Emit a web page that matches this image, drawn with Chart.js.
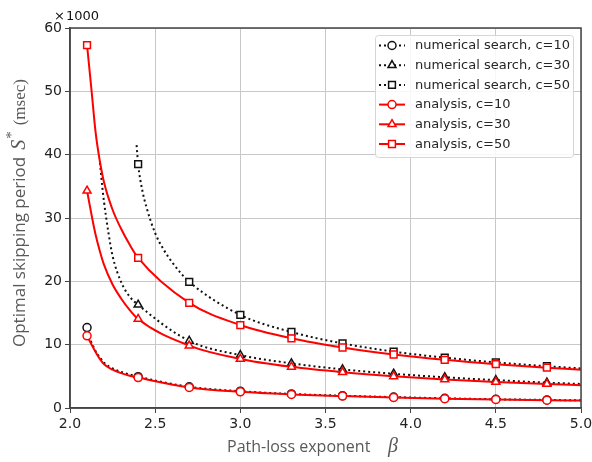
<!DOCTYPE html>
<html>
<head>
<meta charset="utf-8">
<script src="https://cdn.jsdelivr.net/npm/chart.js@4"></script>
<style>
  html, body { margin: 0; padding: 0; background: #fff; }
  #wrap { width: 592px; height: 462px; }
</style>
</head>
<body>
<div id="wrap"><canvas id="chart" width="592" height="462"></canvas></div>
<script>
// curve samples (beta, S* in units of 1000 msec)
const anaBeta10 = [2.1, 2.127, 2.15, 2.175, 2.2, 2.25, 2.3, 2.35, 2.4, 2.7, 3.0, 3.3, 3.6, 3.9, 4.2, 4.5, 4.8, 5.0];
const anaS10    = [11.4, 10.0, 8.85, 7.75, 6.9, 6.05, 5.5, 5.1, 4.8, 3.25, 2.55, 2.15, 1.88, 1.66, 1.48, 1.34, 1.23, 1.17];
const anaBeta30 = [2.1, 2.13, 2.15, 2.175, 2.2, 2.25, 2.3, 2.35, 2.4, 2.7, 3.0, 3.3, 3.6, 3.9, 4.2, 4.5, 4.8, 5.0];
const anaS30    = [34.3, 30.0, 27.4, 24.8, 22.6, 19.5, 17.3, 15.5, 14.05, 9.85, 7.75, 6.5, 5.65, 5.0, 4.5, 4.1, 3.78, 3.6];
const anaBeta50 = [2.1, 2.127, 2.15, 2.175, 2.2, 2.25, 2.3, 2.35, 2.4, 2.7, 3.0, 3.3, 3.6, 3.9, 4.2, 4.5, 4.8, 5.0];
const anaS50    = [57.3, 50.0, 43.6, 39.0, 35.6, 31.3, 28.3, 25.8, 23.7, 16.6, 13.1, 11.0, 9.55, 8.45, 7.6, 6.92, 6.37, 6.05];

const numBeta10 = [2.11, 2.15, 2.175, 2.2, 2.25, 2.3, 2.35, 2.4, 2.7, 3.0, 3.3, 3.6, 3.9, 4.2, 4.5, 4.8, 5.0];
const numS10    = [11.3, 9.0, 8.0, 7.15, 6.25, 5.7, 5.3, 4.95, 3.35, 2.65, 2.22, 1.94, 1.72, 1.53, 1.38, 1.27, 1.2];
const numBeta30 = [2.176, 2.19, 2.2, 2.225, 2.25, 2.3, 2.35, 2.4, 2.7, 3.0, 3.3, 3.6, 3.9, 4.2, 4.5, 4.8, 5.0];
const numS30    = [38.7, 34.8, 32.5, 27.8, 24.0, 19.9, 17.6, 16.3, 10.6, 8.35, 7.05, 6.1, 5.4, 4.85, 4.4, 4.0, 3.8];
const numBeta50 = [2.391, 2.4, 2.425, 2.45, 2.5, 2.55, 2.6, 2.65, 2.7, 3.0, 3.3, 3.6, 3.9, 4.2, 4.5, 4.8, 5.0];
const numS50    = [41.5, 38.5, 34.3, 31.6, 27.6, 25.0, 23.0, 21.3, 19.9, 14.7, 12.0, 10.2, 8.9, 7.95, 7.2, 6.6, 6.25];

// marker positions
const markBeta   = [2.1, 2.4, 2.7, 3.0, 3.3, 3.6, 3.9, 4.2, 4.5, 4.8];
const numMark10  = [12.7, 4.95, 3.35, 2.65, 2.22, 1.94, 1.72, 1.53, 1.38, 1.27];
const numMark30  = [null, 16.3, 10.6, 8.35, 7.05, 6.1, 5.4, 4.85, 4.4, 4.0];
const numMark50  = [null, 38.5, 19.9, 14.7, 12.0, 10.2, 8.9, 7.95, 7.2, 6.6];
const anaMark10  = [11.4, 4.8, 3.25, 2.55, 2.15, 1.88, 1.66, 1.48, 1.34, 1.23];
const anaMark30  = [34.3, 14.05, 9.85, 7.75, 6.5, 5.65, 5.0, 4.5, 4.1, 3.78];
const anaMark50  = [57.3, 23.7, 16.6, 13.1, 11.0, 9.55, 8.45, 7.6, 6.92, 6.37];

const xTicks = [2.0, 2.5, 3.0, 3.5, 4.0, 4.5, 5.0];
const yTicks = [0, 10, 20, 30, 40, 50, 60];

const legendLabels = [
  'numerical search, c=10', 'numerical search, c=30', 'numerical search, c=50',
  'analysis, c=10', 'analysis, c=30', 'analysis, c=50'
];

const RED = '#ff0000';
const BLACK = '#111111';
const DOTS = [2, 3];
const styles = ['circle', 'triangle', 'rect'];
const radii = { circle: 4, triangle: 4.6, rect: 4.8 };

const pts = (xs, ys) => xs.map((x, i) => ({ x, y: ys[i] })).filter(p => p.y !== null);

function lineSet(xs, ys, color, dotted, order) {
  return {
    data: pts(xs, ys), borderColor: color, borderWidth: 2,
    borderDash: dotted ? DOTS : [], pointRadius: 0, fill: false,
    cubicInterpolationMode: 'monotone', order
  };
}
function markSet(ys, color, style, order) {
  return {
    data: pts(markBeta, ys), showLine: false, pointStyle: style,
    pointRadius: radii[style], pointBorderWidth: 1.5,
    pointBorderColor: color, pointBackgroundColor: '#fff', order
  };
}

const datasets = [
  lineSet(anaBeta10, anaS10, RED, false, 1),
  lineSet(anaBeta30, anaS30, RED, false, 1),
  lineSet(anaBeta50, anaS50, RED, false, 1),
  markSet(anaMark10, RED, 'circle', 0),
  markSet(anaMark30, RED, 'triangle', 0),
  markSet(anaMark50, RED, 'rect', 0),
  lineSet(numBeta10, numS10, BLACK, true, 3),
  lineSet(numBeta30, numS30, BLACK, true, 3),
  lineSet(numBeta50, numS50, BLACK, true, 3),
  markSet(numMark10, BLACK, 'circle', 2),
  markSet(numMark30, BLACK, 'triangle', 2),
  markSet(numMark50, BLACK, 'rect', 2)
];

function drawMarker(ctx, style, x, y) {
  Chart.helpers.drawPoint(ctx, {
    pointStyle: style, radius: radii[style], borderWidth: 1.5
  }, x, y);
}

// frame, legend and axis titles
const decorations = {
  id: 'decorations',
  afterDatasetsDraw(chart) {
    const { ctx, chartArea: a } = chart;
    ctx.save();
    ctx.strokeStyle = '#444';
    ctx.lineWidth = 1.5;
    ctx.strokeRect(a.left, a.top, a.right - a.left, a.bottom - a.top);

    // legend box
    const bx = 375, by = 35, bw = 198, bh = 122;
    ctx.fillStyle = 'rgba(255,255,255,0.85)';
    ctx.strokeStyle = '#d6d6d6';
    ctx.lineWidth = 1;
    ctx.beginPath();
    ctx.roundRect(bx + 0.5, by + 0.5, bw, bh, 3);
    ctx.fill();
    ctx.stroke();

    ctx.font = '13px "DejaVu Sans"';
    ctx.textBaseline = 'middle';
    legendLabels.forEach((label, i) => {
      const y = 45.5 + i * 19.7;
      const numeric = i < 3;
      const color = numeric ? BLACK : RED;
      ctx.strokeStyle = color;
      ctx.lineWidth = 2;
      ctx.setLineDash(numeric ? DOTS : []);
      ctx.beginPath();
      ctx.moveTo(379, y);
      ctx.lineTo(405, y);
      ctx.stroke();
      ctx.setLineDash([]);
      ctx.fillStyle = '#fff';
      ctx.lineWidth = 1.5;
      drawMarker(ctx, styles[i % 3], 392, y);
      ctx.fillStyle = '#262626';
      ctx.fillText(label, 415, y + 0.5);
    });

    // multiplier
    ctx.fillStyle = '#111';
    ctx.font = '13px "DejaVu Sans"';
    ctx.textBaseline = 'alphabetic';
    ctx.fillText('\u00d7', 54, 20);
    ctx.fillText('1000', 66, 20);

    // x title
    ctx.fillStyle = '#595959';
    ctx.font = '16px "Open Sans"';
    ctx.textAlign = 'left';
    ctx.fillText('Path-loss exponent', 227, 452);
    ctx.font = 'italic 20px "Liberation Serif"';
    ctx.fillText('\u03b2', 388, 452);

    // y title
    ctx.translate(25, 347);
    ctx.rotate(-Math.PI / 2);
    ctx.font = '17px "Open Sans"';
    ctx.fillText('Optimal skipping period', 0, 0);
    let w = ctx.measureText('Optimal skipping period').width + 7;
    ctx.font = 'italic 20px "Liberation Serif"';
    ctx.fillText('S', w, 0);
    w += ctx.measureText('S').width + 1;
    ctx.font = '15px "Liberation Serif"';
    ctx.fillText('*', w, -9);
    w += ctx.measureText('*').width + 6;
    ctx.font = '17px "Liberation Serif"';
    ctx.fillText('(msec)', w, 0);
    ctx.restore();
  }
};

new Chart(document.getElementById('chart'), {
  type: 'line',
  data: { datasets },
  plugins: [decorations],
  options: {
    responsive: false,
    animation: false,
    layout: { padding: { top: 28, right: 11, left: 0, bottom: 0 } },
    plugins: { legend: { display: false }, tooltip: { enabled: false } },
    scales: {
      x: {
        type: 'linear', min: 2, max: 5,
        afterFit: s => { s.height = 54; s.paddingRight = 0; s.paddingLeft = 0; },
        afterBuildTicks: s => { s.ticks = xTicks.map(v => ({ value: v })); },
        grid: { color: '#c8c8c8', lineWidth: 1, tickLength: 5, tickColor: '#444' },
        border: { color: '#444', width: 1.5 },
        ticks: {
          color: '#222', font: { family: 'DejaVu Sans', size: 14 }, padding: 3,
          maxRotation: 0, callback: v => v.toFixed(1)
        }
      },
      y: {
        min: 0, max: 60,
        afterFit: s => { s.width = 70; },
        afterBuildTicks: s => { s.ticks = yTicks.map(v => ({ value: v })); },
        grid: { color: '#c8c8c8', lineWidth: 1, tickLength: 5, tickColor: '#444' },
        border: { color: '#444', width: 1.5 },
        ticks: { color: '#222', font: { family: 'DejaVu Sans', size: 14 }, padding: 3 }
      }
    }
  }
});
</script>
</body>
</html>
